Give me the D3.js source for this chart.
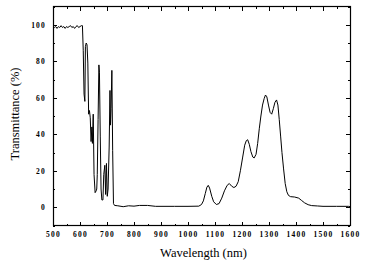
<!DOCTYPE html>
<html><head><meta charset="utf-8">
<script src="https://cdn.jsdelivr.net/npm/d3@7/dist/d3.min.js"></script>
<style>body{margin:0;background:#fff}svg{display:block}</style>
</head><body>
<script>
const wavelength = [500,505,510,515,520,525,530,535,540,545,550,555,560,565,570,575,580,585,590,595,600,605,609,
612,615,618,620,623,626,629,632,635,638,641,644,646,649,652,656,660,662,664,667,670,672,675,678,681,685,688,692,695,698,701,704,708,711,713,715,718,721,724,728,
740,760,780,800,820,850,880,900,950,1000,1040,1050,1057,1064,1070,1075,1080,1088,1095,1105,1115,1125,1135,1145,1153,1162,1170,1178,1186,1194,1202,1210,1216,1221,1227,1233,1240,1245,1252,1258,1264,1270,1276,1282,1287,1292,1298,1304,1310,1316,1322,1328,1333,1338,1343,1348,1354,1360,1366,1372,1380,1395,1410,1420,1432,1445,1458,1480,1500,1550,1595,1600];
const transmittance = [99,98.5,99,98,99,98.5,99.5,98.5,99,98,99,98.5,99,99.5,98.5,99,98,99,99.5,98.5,99,99.5,99.5,
86,62,58,88,90,89,79,51,53,49,36,44,35,51,18,8,9,10,18,48,78,74,39,10,4,4,18,23,7,24,6,10,33,64,45,54,75,31,2,1,
0.8,0.3,0.8,0.6,1,1,0.5,0.5,0.5,0.5,0.6,1.5,3.5,7.5,11,12,10.5,6,3,1.5,2,5,9,12,13,11.5,10.8,11.5,14,20,27,34,36.5,37,34.5,30.5,27.5,27,29,35,43,50,56,59.5,61.5,60.5,56,52,51,54,57.5,58.8,56,48,39,30,21,13,8.5,6.5,5.8,5.6,5,3.8,2.4,1.4,0.9,0.7,0.5,0.5,0.5,0.3];
const xTicks = [500,600,700,800,900,1000,1100,1200,1300,1400,1500,1600];
const yTicks = [0,20,40,60,80,100];

const W = 367, H = 263;
const m = {left:53, right:350, top:6.5, bottom:225.5};
const svg = d3.select("body").append("svg").attr("width",W).attr("height",H);
const x = d3.scaleLinear().domain([500,1600]).range([m.left,m.right]);
const y = d3.scaleLinear().domain([-10,110]).range([m.bottom,m.top]);

const tickFont = "'Liberation Serif', serif";
const minorX = d3.range(550,1600,100);
const minorY = d3.range(-10,111,20);

function axisG(axis, tx, ty){
  const g = svg.append("g").attr("transform",`translate(${tx},${ty})`).call(axis);
  g.select(".domain").remove();
  g.selectAll("line").attr("stroke","#000").attr("shape-rendering","crispEdges");
  g.selectAll("text").attr("font-family",tickFont).attr("font-weight","bold").attr("font-size",7.5).attr("letter-spacing","1.2px").attr("fill","#000");
  return g;
}
// bottom
axisG(d3.axisBottom(x).tickValues(xTicks).tickSize(-4).tickPadding(6).tickFormat(d3.format("d")), 0, m.bottom);
axisG(d3.axisBottom(x).tickValues(minorX).tickSize(-2).tickFormat(""), 0, m.bottom);
// top
axisG(d3.axisTop(x).tickValues(xTicks).tickSize(-4).tickFormat(""), 0, m.top);
axisG(d3.axisTop(x).tickValues(minorX).tickSize(-2).tickFormat(""), 0, m.top);
// left
axisG(d3.axisLeft(y).tickValues(yTicks).tickSize(-4).tickPadding(7).tickFormat(d3.format("d")), m.left, 0);
axisG(d3.axisLeft(y).tickValues(minorY).tickSize(-2).tickFormat(""), m.left, 0);
// right
axisG(d3.axisRight(y).tickValues(yTicks).tickSize(-4).tickFormat(""), m.right, 0);
axisG(d3.axisRight(y).tickValues(minorY).tickSize(-2).tickFormat(""), m.right, 0);

svg.append("rect").attr("x",m.left+0.5).attr("y",m.top).attr("width",m.right-m.left).attr("height",m.bottom-m.top)
  .attr("fill","none").attr("stroke","#000").attr("stroke-width",1.2);

const data = wavelength.map((w,i)=>[w,transmittance[i]]);
svg.append("path").datum(data)
  .attr("d", d3.line().x(d=>x(d[0])).y(d=>y(d[1])))
  .attr("fill","none").attr("stroke","#000").attr("stroke-width",1).attr("stroke-linejoin","round");

svg.append("text").attr("x",(m.left+m.right)/2+2).attr("y",257).attr("text-anchor","middle")
  .attr("font-family",tickFont).attr("font-size",12.5).text("Wavelength (nm)");
svg.append("text").attr("transform","translate(19,114) rotate(-90)").attr("text-anchor","middle")
  .attr("font-family",tickFont).attr("font-size",12.5).text("Transmittance (%)");
</script>
</body></html>
